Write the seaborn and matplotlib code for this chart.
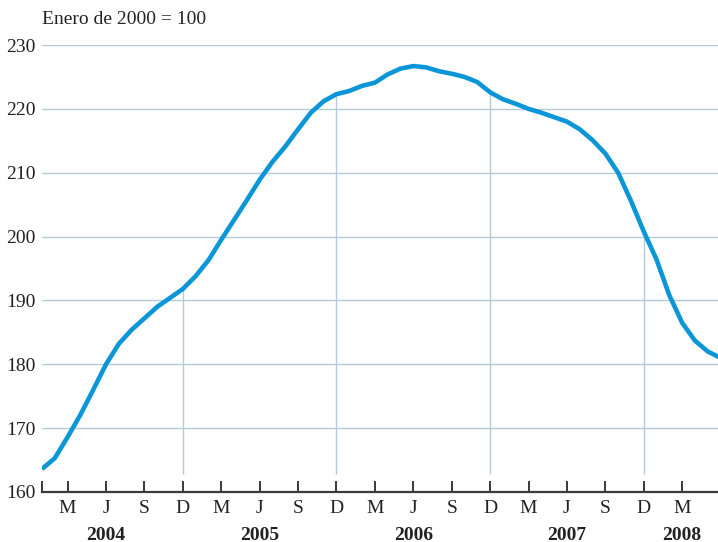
import matplotlib
matplotlib.use("Agg")
import matplotlib.pyplot as plt
import matplotlib.transforms as mtransforms
import seaborn as sns
import pandas as pd

# Monthly index values, Jan 2004 .. Jun 2008 (Enero de 2000 = 100)
index_values = [163.6, 165.3, 168.6, 172.1, 176.0, 180.0, 183.2, 185.4, 187.2, 189.0,
                190.4, 191.8, 193.8, 196.3, 199.5, 202.6, 205.7, 208.9, 211.7, 214.1,
                216.8, 219.4, 221.2, 222.3, 222.8, 223.6, 224.1, 225.4, 226.3, 226.7,
                226.5, 225.9, 225.5, 225.0, 224.2, 222.6, 221.5, 220.8, 220.0, 219.4,
                218.7, 218.0, 216.8, 215.1, 213.0, 210.0, 205.6, 200.8, 196.4, 190.8,
                186.5, 183.7, 182.0, 181.0]

tick_positions = [0, 2, 5, 8, 11, 14, 17, 20, 23, 26, 29, 32, 35, 38, 41, 44, 47, 50]
tick_labels = ["", "M", "J", "S", "D", "M", "J", "S", "D", "M", "J", "S", "D",
               "M", "J", "S", "D", "M"]
december_positions = [11, 23, 35, 47]
year_labels = ["2004", "2005", "2006", "2007", "2008"]
year_positions = [5, 17, 29, 41, 50]
y_ticks = [160, 170, 180, 190, 200, 210, 220, 230]

df = pd.DataFrame({"mes": list(range(len(index_values))), "indice": index_values})

sns.set_theme(style="white")
plt.rcParams["font.family"] = ["Liberation Serif", "DejaVu Serif"]

FS = 14

fig = plt.figure(figsize=(7.18, 5.42), dpi=100)
ax = fig.add_axes([42 / 718, 50 / 542, 676 / 718, 447 / 542])

grid_color = "#b3cad8"
for yv in y_ticks[1:]:
    ax.axhline(yv, color=grid_color, lw=1.0, zorder=1)

# drop lines at December from the curve down to near the axis
for d in december_positions:
    ax.vlines(d, 162.8, index_values[d], color=grid_color, lw=1.0, zorder=1)

sns.lineplot(data=df, x="mes", y="indice", ax=ax, color="#0b97d7", lw=3.3,
             zorder=3, solid_capstyle="butt")

ax.set_xlim(0, 52.8)
ax.set_ylim(160, 230)
ax.set_yticks(y_ticks)
ax.set_yticklabels([str(v) for v in y_ticks], fontsize=FS, color="#222222")
ax.set_xticks(tick_positions)
ax.set_xticklabels(tick_labels, fontsize=FS, color="#222222")
ax.set_xlabel("")
ax.set_ylabel("")

for s in ["top", "right", "left"]:
    ax.spines[s].set_visible(False)
ax.spines["bottom"].set_color("#3a3a3a")
ax.spines["bottom"].set_linewidth(1.6)
ax.spines["bottom"].set_zorder(4)

ax.tick_params(axis="x", direction="in", length=8, width=1.4, color="#3a3a3a",
               pad=6, bottom=True)
ax.tick_params(axis="y", length=0, pad=4.5, left=False)

trans = mtransforms.blended_transform_factory(ax.transData, fig.transFigure)
for lbl, pos in zip(year_labels, year_positions):
    ax.text(pos, 1 - 535 / 542, lbl, transform=trans, ha="center", va="center",
            fontsize=FS, fontweight="bold", color="#222222")

fig.text(42 / 718, 1 - 20 / 542, "Enero de 2000 = 100", ha="left", va="center",
         fontsize=FS, color="#222222")

fig.savefig("out.png", dpi=100)
